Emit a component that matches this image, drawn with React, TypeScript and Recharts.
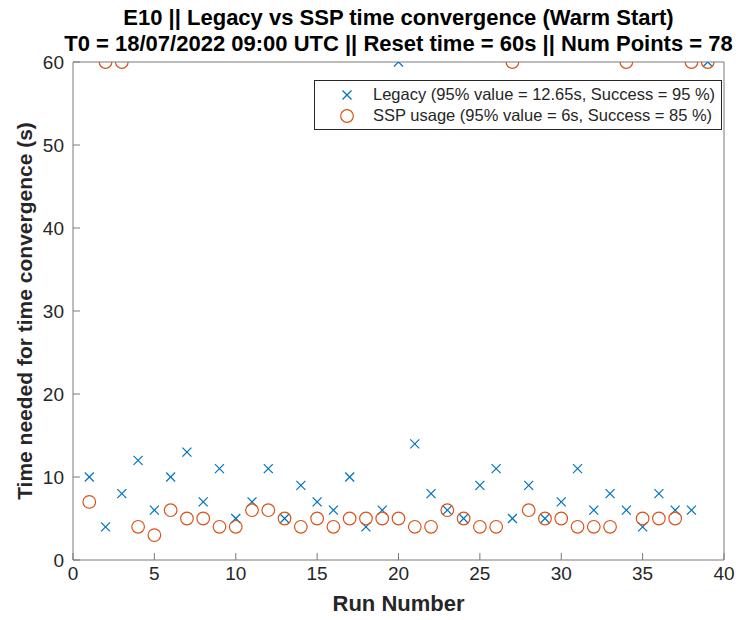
import React from 'react';
import { ScatterChart, Scatter, XAxis, YAxis, Legend, Label } from 'recharts';

const runNumbers = [1, 2, 3, 4, 5, 6, 7, 8, 9, 10, 11, 12, 13, 14, 15, 16, 17, 18, 19, 20, 21, 22, 23, 24, 25, 26, 27, 28, 29, 30, 31, 32, 33, 34, 35, 36, 37, 38, 39];
const legacyTimes = [10, 4, 8, 12, 6, 10, 13, 7, 11, 5, 7, 11, 5, 9, 7, 6, 10, 4, 6, 60, 14, 8, 6, 5, 9, 11, 5, 9, 5, 7, 11, 6, 8, 6, 4, 8, 6, 6, 60];
const sspTimes = [7, 60, 60, 4, 3, 6, 5, 5, 4, 4, 6, 6, 5, 4, 5, 4, 5, 5, 5, 5, 4, 4, 6, 5, 4, 4, 60, 6, 5, 5, 4, 4, 4, 60, 5, 5, 5, 60, 60];
const xTicks = [0, 5, 10, 15, 20, 25, 30, 35, 40];
const yTicks = [0, 10, 20, 30, 40, 50, 60];

const titleLine1 = 'E10 || Legacy vs SSP time convergence (Warm Start)';
const titleLine2 = 'T0 = 18/07/2022 09:00 UTC || Reset time = 60s || Num Points = 78';
const legacyName = 'Legacy (95% value = 12.65s, Success = 95 %)';
const sspName = 'SSP usage (95% value = 6s, Success = 85 %)';
const xLabel = 'Run Number';
const yLabel = 'Time needed for time convergence (s)';

const legacyData = runNumbers.map((run, i) => ({ run, time: legacyTimes[i] }));
const sspData = runNumbers.map((run, i) => ({ run, time: sspTimes[i] }));

const BLUE = '#0072BD';
const ORANGE = '#D95319';
const AXIS = '#7a7a7a';
const TEXT = '#262626';
const FONT = '"Liberation Sans", Arial, Helvetica, sans-serif';

const CrossShape = (props: any) => {
  const { cx, cy } = props;
  if (cx == null || cy == null) return <g />;
  const s = 4.5;
  return (
    <g>
      <line x1={cx - s} y1={cy - s} x2={cx + s} y2={cy + s} stroke={BLUE} strokeWidth={1.2} />
      <line x1={cx - s} y1={cy + s} x2={cx + s} y2={cy - s} stroke={BLUE} strokeWidth={1.2} />
    </g>
  );
};

const CircleShape = (props: any) => {
  const { cx, cy } = props;
  if (cx == null || cy == null) return <g />;
  return <circle cx={cx} cy={cy} r={6.3} fill="none" stroke={ORANGE} strokeWidth={1.2} />;
};

const LegendMarker = ({ kind }: { kind: string }) => (
  <svg width={20} height={20} style={{ display: 'block' }}>
    {kind === 'x' ? (
      <g>
        <line x1={5.5} y1={5.5} x2={14.5} y2={14.5} stroke={BLUE} strokeWidth={1.2} />
        <line x1={5.5} y1={14.5} x2={14.5} y2={5.5} stroke={BLUE} strokeWidth={1.2} />
      </g>
    ) : (
      <circle cx={10} cy={10} r={6.3} fill="none" stroke={ORANGE} strokeWidth={1.2} />
    )}
  </svg>
);

const LegendBox = (props: any) => {
  const payload = props.payload || [];
  return (
    <div
      style={{
        border: `1px solid ${TEXT}`,
        background: '#fff',
        width: 408,
        boxSizing: 'border-box',
        padding: '3px 0',
        fontFamily: FONT,
        fontSize: 16.5,
        color: TEXT,
      }}
    >
      {payload.map((entry: any, i: number) => (
        <div key={i} style={{ display: 'flex', alignItems: 'center', height: 21 }}>
          <div style={{ width: 22 }} />
          <LegendMarker kind={entry.value === legacyName ? 'x' : 'o'} />
          <div style={{ width: 16 }} />
          <span style={{ whiteSpace: 'nowrap' }}>{entry.value}</span>
        </div>
      ))}
    </div>
  );
};

const tickStyle = { fill: TEXT, fontSize: 19, fontFamily: FONT };

export default function App() {
  return (
    <div style={{ position: 'absolute', left: 0, top: 0, width: 736, height: 620, background: '#fff' }}>
      <div
        style={{
          position: 'absolute',
          left: 73,
          width: 651,
          top: 5,
          textAlign: 'center',
          fontFamily: FONT,
          fontWeight: 'bold',
          fontSize: 22,
          lineHeight: '26px',
          color: '#000',
          whiteSpace: 'nowrap',
          display: 'flex',
          flexDirection: 'column',
          alignItems: 'center',
        }}
      >
        <div>{titleLine1}</div>
        <div>{titleLine2}</div>
      </div>
      <ScatterChart width={736} height={620} margin={{ top: 61, right: 0, bottom: 0, left: 0 }}>
        <XAxis
          xAxisId="b"
          type="number"
          dataKey="run"
          domain={[0, 40]}
          ticks={xTicks}
          interval={0}
          orientation="bottom"
          height={60}
          tickSize={-7}
          tickMargin={14}
          stroke={AXIS}
          tick={tickStyle}
          allowDataOverflow
        >
          <Label
            value={xLabel}
            position="insideBottom"
            offset={9}
            style={{ fontWeight: 'bold', fontSize: 22, fill: TEXT, fontFamily: FONT }}
          />
        </XAxis>
        <XAxis
          xAxisId="t"
          type="number"
          domain={[0, 40]}
          ticks={xTicks}
          interval={0}
          orientation="top"
          height={1}
          tickSize={-7}
          stroke={AXIS}
          tick={false}
          allowDataOverflow
        />
        <YAxis
          yAxisId="l"
          type="number"
          dataKey="time"
          domain={[0, 60]}
          ticks={yTicks}
          interval={0}
          width={73}
          tickSize={-7}
          tickMargin={16}
          stroke={AXIS}
          tick={tickStyle}
          allowDataOverflow
        >
          <Label
            value={yLabel}
            angle={-90}
            position="insideLeft"
            offset={25}
            style={{ fontWeight: 'bold', fontSize: 21, fill: TEXT, fontFamily: FONT, textAnchor: 'middle' }}
          />
        </YAxis>
        <YAxis
          yAxisId="r"
          type="number"
          orientation="right"
          domain={[0, 60]}
          ticks={yTicks}
          interval={0}
          width={12}
          tickSize={-7}
          stroke={AXIS}
          tick={false}
          allowDataOverflow
        />
        <Legend
          layout="vertical"
          align="center"
          verticalAlign="middle"
          content={<LegendBox />}
          wrapperStyle={{ position: 'absolute', top: 80, left: 314, width: 408 }}
        />
        <Scatter
          xAxisId="b"
          yAxisId="l"
          name={legacyName}
          data={legacyData}
          fill={BLUE}
          shape={CrossShape}
          isAnimationActive={false}
        />
        <Scatter
          xAxisId="b"
          yAxisId="l"
          name={sspName}
          data={sspData}
          fill={ORANGE}
          shape={CircleShape}
          isAnimationActive={false}
        />
      </ScatterChart>
    </div>
  );
}
